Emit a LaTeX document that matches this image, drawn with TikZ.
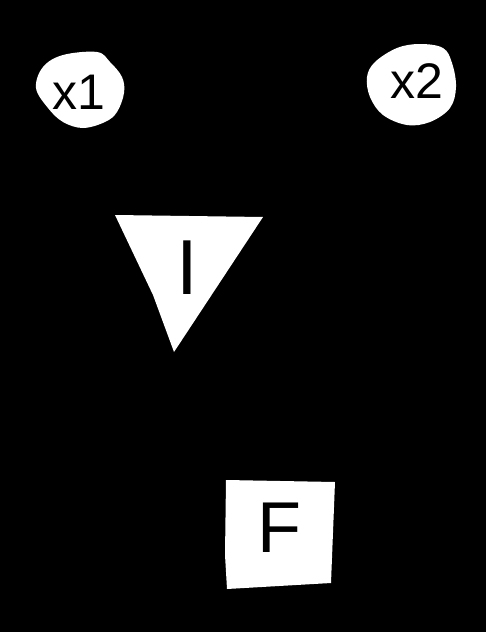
\documentclass[tikz,border=0pt]{standalone}
\usepackage{fontspec}
\setmainfont{Liberation Sans}
\begin{document}
\begin{tikzpicture}[x=1pt,y=-1pt,
  shapefill/.style={fill=white, draw=none},
  inputlabel/.style={inner sep=0pt, text=black, font=\fontsize{50}{52}\selectfont},
  hiddenlabel/.style={inner sep=0pt, text=black, font=\fontsize{78}{80}\selectfont},
  outputlabel/.style={inner sep=0pt, text=black, font=\fontsize{72}{74}\selectfont}
]
  \fill[black] (0,0) rectangle (486,632);
  \useasboundingbox (0,0) rectangle (486,632);

  % x1 blob
  \fill[shapefill] plot[smooth cycle, tension=0.6] coordinates {(43,67) (63,55) (97,52) (110,62) (122,77) (124,93) (117,112) (105,122) (83,128) (63,122) (48,108) (36,88)};
  % x2 blob
  \fill[shapefill] plot[smooth cycle, tension=0.6] coordinates {(375,62) (397,48) (420,44) (443,48) (452,63) (456,87) (450,108) (430,122) (407,125) (383,115) (370,97) (367,77)};
  % hidden unit
  \fill[shapefill] (115,215) -- (263,217) -- (174,352) -- (153,295) -- cycle;
  % output unit
  \fill[shapefill] (226,480) -- (335,482) -- (331,583) -- (227,589) -- (225,555) -- cycle;

  \node[inputlabel] (x1) at (79,92) {x1};
  \node[inputlabel] (x2) at (417,81) {x2};
  \node[hiddenlabel] (i) at (187,268) {I};
  \node[outputlabel] (f) at (279,528) {F};
\end{tikzpicture}
\end{document}
